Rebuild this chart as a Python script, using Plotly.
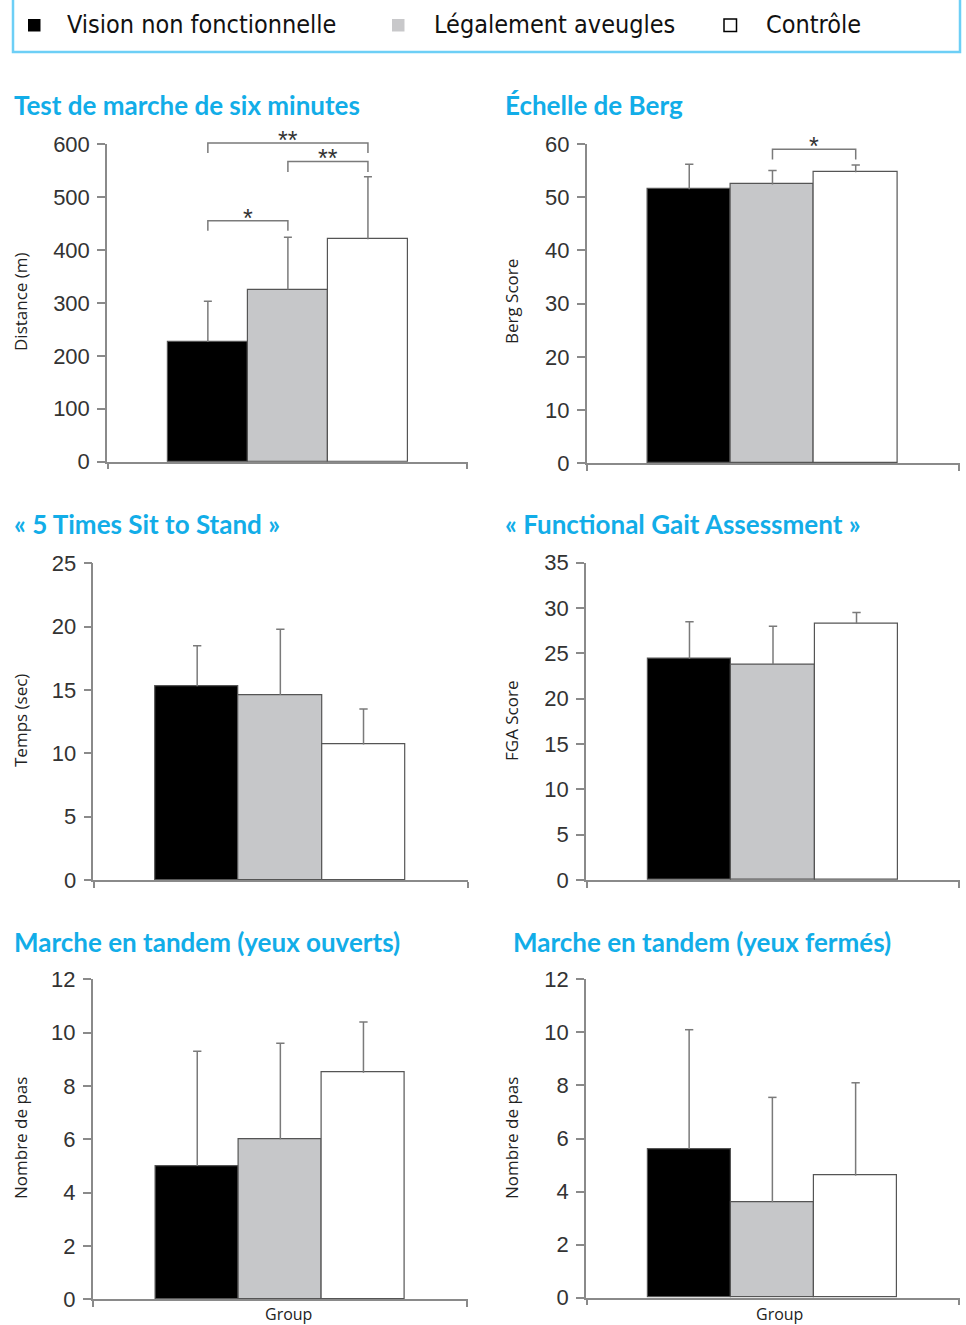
import plotly.graph_objects as go

W, H = 966, 1325

# ---------------- data ----------------
groups = ["Vision non fonctionnelle", "Légalement aveugles", "Contrôle"]
group_colors = ["#000000", "#c6c7c9", "#ffffff"]
group_x = [0, 1, 2]

panel_titles = [
    "Test de marche de six minutes",
    "Échelle de Berg",
    "« 5 Times Sit to Stand »",
    "« Functional Gait Assessment »",
    "Marche en tandem (yeux ouverts)",
    "Marche en tandem (yeux fermés)",
]
y_titles = ["Distance (m)", "Berg Score", "Temps (sec)", "FGA Score",
            "Nombre de pas", "Nombre de pas"]
x_title = "Group"

six_min_mean = [226, 325, 420]
six_min_err = [77, 99, 118]
berg_mean = [51.5, 52.4, 54.7]
berg_err = [4.7, 2.6, 1.35]
sts_mean = [15.3, 14.6, 10.7]
sts_err = [3.2, 5.2, 2.8]
fga_mean = [24.4, 23.8, 28.3]
fga_err = [4.1, 4.2, 1.2]
tandem_open_mean = [5.0, 6.0, 8.5]
tandem_open_err = [4.3, 3.6, 1.9]
tandem_closed_mean = [5.6, 3.6, 4.6]
tandem_closed_err = [4.5, 3.95, 3.5]

means = [six_min_mean, berg_mean, sts_mean, fga_mean, tandem_open_mean, tandem_closed_mean]
errs = [six_min_err, berg_err, sts_err, fga_err, tandem_open_err, tandem_closed_err]

y_max = [600, 60, 25, 35, 12, 12]
y_step = [100, 10, 5, 5, 2, 2]

# significance brackets: (panel, left group, right group, bar value, leg value, label)
brackets = [
    (0, 0, 2, 602, 583, "**"),
    (0, 1, 2, 567, 547, "**"),
    (0, 0, 1, 455, 436, "*"),
    (1, 1, 2, 59.0, 57.1, "*"),
]

# ---------------- layout (pixels) ----------------
# x0, x1, y_bottom, y_top, x range
panels = [
    (107, 468, 461.7, 144, [-1.26, 3.25]),
    (586.7, 960, 463.3, 144, [-1.232, 3.253]),
    (93.3, 468.3, 880, 563.3, [-1.249, 3.26]),
    (586, 960, 880, 562.7, [-1.239, 3.239]),
    (92.7, 468, 1299.3, 979.3, [-1.258, 3.258]),
    (586, 960, 1297.7, 979.3, [-1.239, 3.254]),
]
title_pos = [(12, 105), (503, 105), (12, 524), (503, 524), (12, 942), (511, 942)]
ytitle_pos = [(20, 302), (511, 302), (20, 721), (511, 721), (20, 1138), (511, 1138)]
CAP = 0.05  # half width of error-bar caps, in bar widths


def px(x):
    return x / W


def py(y):
    return 1 - y / H


AX = "#8a8a8a"
ERR = "#7a7a7a"
TICKFONT = dict(family="Liberation Sans, Arial, sans-serif", size=22, color="#333333")

fig = go.Figure()
shapes = []
annotations = []

for i, (x0, x1, yb, yt, xr) in enumerate(panels):
    n = "" if i == 0 else str(i + 1)
    fig.add_trace(go.Bar(
        x=group_x, y=means[i], width=1,
        marker=dict(color=group_colors, line=dict(color="#555555", width=1.2)),
        xaxis="x" + n, yaxis="y" + n, showlegend=False, hoverinfo="y",
    ))
    # upper-only error bars (stem + cap)
    ex, ey = [], []
    for gx, m, e in zip(group_x, means[i], errs[i]):
        ex += [gx, gx, None, gx - CAP, gx + CAP, None]
        ey += [m, m + e, None, m + e, m + e, None]
    fig.add_trace(go.Scatter(
        x=ex, y=ey, mode="lines", line=dict(color=ERR, width=1.5),
        xaxis="x" + n, yaxis="y" + n, showlegend=False, hoverinfo="skip",
        cliponaxis=False,
    ))
    eps = (xr[1] - xr[0]) * 0.002
    fig.update_layout(**{
        "xaxis" + n: dict(
            domain=[px(x0), px(x1)], range=xr, anchor="y" + n,
            showline=True, linecolor=AX, linewidth=1.5,
            tickvals=[xr[0] + eps, xr[1] - eps], ticktext=["", ""],
            ticks="outside", ticklen=6, tickcolor=AX, tickwidth=1.5,
            showgrid=False, zeroline=False, fixedrange=True, automargin=False,
        ),
        "yaxis" + n: dict(
            domain=[py(yb), py(yt)], range=[0, y_max[i]], anchor="x" + n,
            showline=True, linecolor=AX, linewidth=1.5,
            tickvals=list(range(0, y_max[i] + 1, y_step[i])),
            ticks="outside", ticklen=8, tickcolor=AX, tickwidth=1.5,
            ticklabelstandoff=3,
            tickfont=TICKFONT, showgrid=False, zeroline=False, fixedrange=True,
            automargin=False,
        ),
    })
    tx, ty = title_pos[i]
    annotations.append(dict(
        x=px(tx), y=py(ty), xref="paper", yref="paper", xanchor="left", yanchor="middle",
        text=panel_titles[i], showarrow=False,
        font=dict(family="Lato, Open Sans, sans-serif", size=26, color="#12ade8", weight="bold"),
    ))
    ax_, ay_ = ytitle_pos[i]
    annotations.append(dict(
        x=px(ax_), y=py(ay_), xref="paper", yref="paper", xanchor="center", yanchor="middle",
        text=y_titles[i], showarrow=False, textangle=-90,
        font=dict(family="Open Sans, sans-serif", size=17, color="#222222"),
    ))


def data_to_paper(i, xv, yv):
    x0, x1, yb, yt, xr = panels[i]
    pxv = x0 + (xv - xr[0]) / (xr[1] - xr[0]) * (x1 - x0)
    pyv = yb - yv / y_max[i] * (yb - yt)
    return px(pxv), py(pyv)


for (p, a, b, ybar, yleg, lab) in brackets:
    xa, ya = data_to_paper(p, a, ybar)
    xb, _ = data_to_paper(p, b, ybar)
    _, yl = data_to_paper(p, a, yleg)
    shapes.append(dict(
        type="path", xref="paper", yref="paper",
        path=f"M {xa} {yl} L {xa} {ya} L {xb} {ya} L {xb} {yl}",
        line=dict(color=ERR, width=1.5),
    ))
    annotations.append(dict(
        x=(xa + xb) / 2, y=ya, xref="paper", yref="paper", xanchor="center",
        yanchor="middle", yshift=3, text=lab, showarrow=False,
        font=dict(family="Liberation Sans, Arial, sans-serif", size=25, color="#333333"),
    ))

# x-axis titles for bottom row
for gx in [288, 779]:
    annotations.append(dict(
        x=px(gx), y=0, xref="paper", yref="paper", xanchor="center", yanchor="bottom",
        yshift=-2, text=x_title, showarrow=False,
        font=dict(family="Open Sans, sans-serif", size=16, color="#222222"),
    ))

# ---------------- legend (box at top) ----------------
shapes.append(dict(type="rect", xref="paper", yref="paper",
                   x0=px(13), x1=px(960), y0=py(52), y1=py(-6),
                   line=dict(color="#6dcff6", width=2.5), fillcolor="rgba(0,0,0,0)"))
legend_sq = [(28, "#000000", "#000000", 0), (392, "#c8c8ca", "#c8c8ca", 0), (724, "#ffffff", "#000000", 1.5)]
legend_txt_x = [65, 432, 764]
for (sx, fc, lc, lw), tx, g in zip(legend_sq, legend_txt_x, groups):
    shapes.append(dict(type="rect", xref="paper", yref="paper",
                       x0=px(sx), x1=px(sx + 12.5), y0=py(31.5), y1=py(19),
                       fillcolor=fc, line=dict(color=lc, width=lw)))
    annotations.append(dict(
        x=px(tx), y=py(25), xref="paper", yref="paper", xanchor="left", yanchor="middle",
        text=g, showarrow=False,
        font=dict(family="Liberation Sans Narrow, DejaVu Sans Condensed, sans-serif",
                  size=25, color="#111111"),
    ))

fig.update_layout(
    width=W, height=H, margin=dict(l=0, r=0, t=0, b=0, autoexpand=False),
    paper_bgcolor="white", plot_bgcolor="white",
    shapes=shapes, annotations=annotations, showlegend=False,
    bargap=0,
)

fig.write_html(
    "out.html",
    config={"displayModeBar": False},
    post_script="document.body.style.margin='0';document.body.style.padding='0';"
                "document.body.style.overflow='hidden';",
)
